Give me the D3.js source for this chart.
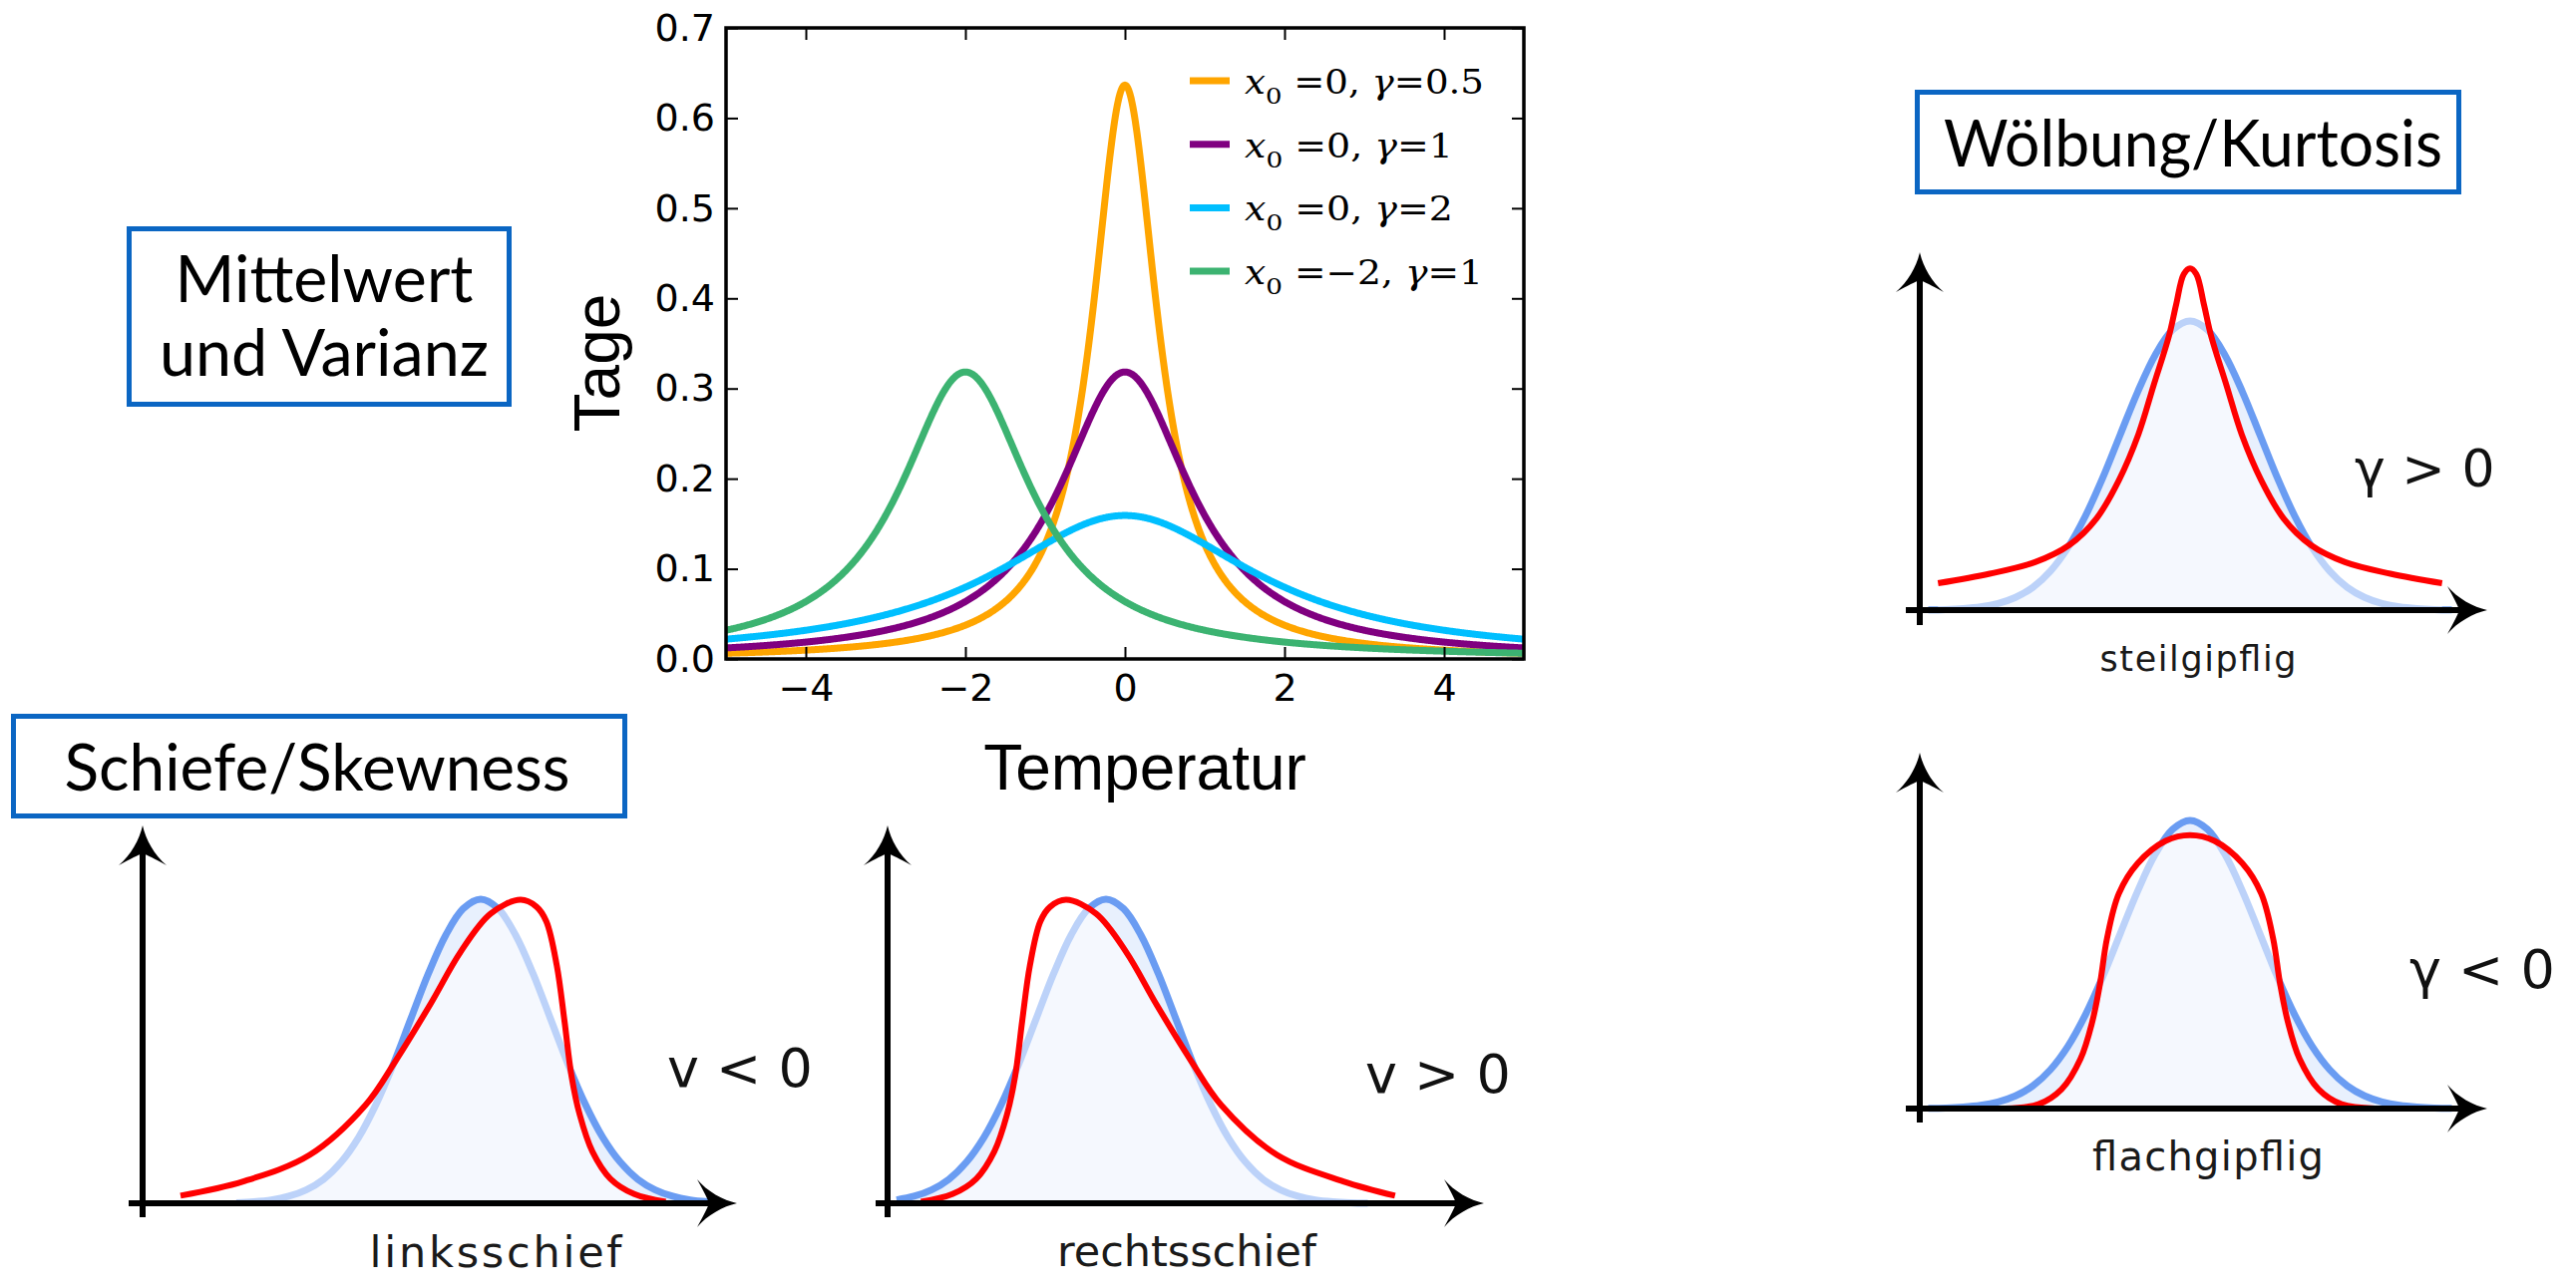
<!DOCTYPE html>
<html>
<head>
<meta charset="utf-8">
<script src="https://cdn.jsdelivr.net/npm/d3@7"></script>
<style>
  body { margin: 0; background: #ffffff; }
  svg { display: block; }
</style>
</head>
<body>
<svg id="fig" width="2583" height="1292"></svg>
<script>
// ---------- Main chart: Cauchy (Lorentz) densities ----------
const seriesX0 = [0, 0, 0, -2];
const seriesGamma = [0.5, 1, 2, 1];
const seriesColors = ["#ffa500", "#800080", "#00bfff", "#3cb371"];
const xTicks = [-4, -2, 0, 2, 4];
const yTicks = [0, 0.1, 0.2, 0.3, 0.4, 0.5, 0.6, 0.7];
const xDomain = [-5, 5];
const yDomain = [0, 0.7];

// ---------- Small panels: reference bell profile (t in std. deviations, height in % of peak) ----------
const bellT = [-4, -3.75, -3.5, -3.25, -3, -2.75, -2.5, -2.25, -2, -1.75, -1.5, -1.25, -1, -0.75, -0.5, -0.25,
               0, 0.25, 0.5, 0.75, 1, 1.25, 1.5, 1.75, 2, 2.25, 2.5, 2.75, 3, 3.25, 3.5, 3.75, 4];
const bellV = [0.03, 0.09, 0.2, 0.5, 1.1, 2.3, 4.4, 7.9, 13.5, 21.6, 32.5, 45.8, 60.7, 75.5, 88.2, 96.9,
               100, 96.9, 88.2, 75.5, 60.7, 45.8, 32.5, 21.6, 13.5, 7.9, 4.4, 2.3, 1.1, 0.5, 0.2, 0.09, 0.03];

// left-skewed profile (linksschief)
const leftSkewT = [-4.3, -3.4, -2.45, -1.65, -1.22, -0.72, -0.29, 0.14, 0.57, 0.8, 0.94, 1.09, 1.2, 1.3, 1.42, 1.6, 1.86, 2.2, 2.65];
const leftSkewV = [2.5, 7.2, 15.9, 32.3, 46.8, 65.5, 82.6, 95.2, 99.8, 97.5, 92.7, 78.2, 60, 42, 29, 17, 8, 3, 0.5];

// right-skewed profile (rechtsschief)
const rightSkewT = [-2.65, -2.2, -1.86, -1.6, -1.42, -1.3, -1.2, -1.09, -0.94, -0.8, -0.57, -0.14, 0.29, 0.72, 1.22, 1.65, 2.45, 3.4, 4.14];
const rightSkewV = [0.5, 3, 8, 17, 29, 42, 60, 78.2, 92.7, 97.5, 99.8, 95.2, 82.6, 65.5, 46.8, 32.3, 15.9, 7.2, 2.5];

// peaked profile (steilgipflig)
const peakedT = [-3.61, -2.87, -2.22, -1.73, -1.34, -1.02, -0.74, -0.52, -0.3, -0.2, -0.09, 0,
                 0.09, 0.2, 0.3, 0.52, 0.74, 1.02, 1.34, 1.73, 2.22, 2.87, 3.61];
const peakedV = [9.3, 12.6, 16.6, 22.5, 31.7, 44.9, 60.8, 77.9, 95, 105.6, 116.2, 118.2,
                 116.2, 105.6, 95, 77.9, 60.8, 44.9, 31.7, 22.5, 16.6, 12.6, 9.3];

// flat-topped profile (flachgipflig)
const flatT = [-2.65, -2.17, -1.84, -1.57, -1.4, -1.29, -1.19, -1.02, -0.75, -0.35, 0,
               0.35, 0.75, 1.02, 1.19, 1.29, 1.4, 1.57, 1.84, 2.17, 2.65];
const flatV = [0, 1.5, 6.7, 17.2, 30.2, 43.3, 59, 74.6, 85.1, 92.9, 94.9,
               92.9, 85.1, 74.6, 59, 43.3, 30.2, 17.2, 6.7, 1.5, 0];

const svg = d3.select("#fig");
const SANS = "'DejaVu Sans', sans-serif";
const ARIAL = "'Liberation Sans', Arial, sans-serif";
const TITLE = "Lato, 'Open Sans', sans-serif";
const SERIF = "'DejaVu Serif', 'Liberation Serif', serif";
const BOX_BLUE = "#0b66c3";

// ================= main chart =================
const plot = { left: 728, right: 1528, top: 28, bottom: 661 };
const x = d3.scaleLinear().domain(xDomain).range([plot.left, plot.right]);
const y = d3.scaleLinear().domain(yDomain).range([plot.bottom, plot.top]);

svg.append("defs").append("clipPath").attr("id", "plotClip")
  .append("rect")
  .attr("x", plot.left).attr("y", plot.top)
  .attr("width", plot.right - plot.left).attr("height", plot.bottom - plot.top);

const cauchy = (t, x0, g) => 1 / (Math.PI * g * (1 + ((t - x0) / g) ** 2));
const grid = d3.range(xDomain[0], xDomain[1] + 1e-9, 0.01);
const curveLine = d3.line().x(d => x(d[0])).y(d => y(d[1]));

const lines = svg.append("g").attr("clip-path", "url(#plotClip)");
seriesX0.forEach((x0, i) => {
  const g = seriesGamma[i];
  lines.append("path")
    .datum(grid.map(t => [t, cauchy(t, x0, g)]))
    .attr("d", curveLine)
    .attr("fill", "none")
    .attr("stroke", seriesColors[i])
    .attr("stroke-width", 7)
    .attr("stroke-linejoin", "round");
});

function styleAxis(g) {
  g.select(".domain").remove();
  g.selectAll(".tick line").attr("stroke", "#000").attr("stroke-width", 2);
  g.selectAll(".tick text").attr("fill", "#000").attr("font-family", SANS).attr("font-size", 38);
}
svg.append("g").attr("transform", `translate(0,${plot.bottom})`)
  .call(d3.axisBottom(x).tickValues(xTicks).tickSizeInner(-12).tickSizeOuter(0).tickPadding(15).tickFormat(d3.format("d")))
  .call(styleAxis);
svg.append("g").attr("transform", `translate(0,${plot.top})`)
  .call(d3.axisTop(x).tickValues(xTicks).tickSizeInner(-12).tickSizeOuter(0).tickFormat(""))
  .call(styleAxis);
svg.append("g").attr("transform", `translate(${plot.left},0)`)
  .call(d3.axisLeft(y).tickValues(yTicks).tickSizeInner(-12).tickSizeOuter(0).tickPadding(11).tickFormat(d3.format(".1f")))
  .call(styleAxis);
svg.append("g").attr("transform", `translate(${plot.right},0)`)
  .call(d3.axisRight(y).tickValues(yTicks).tickSizeInner(-12).tickSizeOuter(0).tickFormat(""))
  .call(styleAxis);

svg.append("rect")
  .attr("x", plot.left).attr("y", plot.top)
  .attr("width", plot.right - plot.left).attr("height", plot.bottom - plot.top)
  .attr("fill", "none").attr("stroke", "#000").attr("stroke-width", 3.5);

// axis titles
svg.append("text")
  .attr("x", 1148).attr("y", 792)
  .attr("text-anchor", "middle")
  .attr("font-family", ARIAL).attr("font-size", 64).attr("fill", "#000")
  .text("Temperatur");
svg.append("text")
  .attr("transform", "translate(621,364) rotate(-90)")
  .attr("text-anchor", "middle")
  .attr("font-family", ARIAL).attr("font-size", 64).attr("fill", "#000")
  .text("Tage");

// legend (no frame), entries drawn from the series parameters
const legend = svg.append("g");
const fmtNum = d3.format("");
const legendWidths = [240, 209, 209, 239];
seriesX0.forEach((x0, i) => {
  const ly = 81 + i * 63.7;
  legend.append("line")
    .attr("x1", 1193).attr("x2", 1233).attr("y1", ly).attr("y2", ly)
    .attr("stroke", seriesColors[i]).attr("stroke-width", 7);
  const t = legend.append("text")
    .attr("x", 1248).attr("y", ly + 13)
    .attr("font-family", SERIF).attr("font-size", 33).attr("fill", "#000")
    .attr("textLength", legendWidths[i]).attr("lengthAdjust", "spacingAndGlyphs");
  t.append("tspan").attr("font-style", "italic").text("x");
  t.append("tspan").attr("font-size", 23).attr("dy", 10).text("0");
  t.append("tspan").attr("dy", -10).text(" =" + fmtNum(x0).replace("-", "\u2212") + ", ");
  t.append("tspan").attr("font-style", "italic").text("\u03b3");
  t.append("tspan").text("=" + fmtNum(seriesGamma[i]));
});

// ================= framed headings =================
function framedTitle(box, lines, baselines, centerX, lengths) {
  svg.append("rect")
    .attr("x", box.x + 2.5).attr("y", box.y + 2.5)
    .attr("width", box.w - 5).attr("height", box.h - 5)
    .attr("fill", "#fff").attr("stroke", BOX_BLUE).attr("stroke-width", 5);
  lines.forEach((s, i) => {
    svg.append("text")
      .attr("x", centerX).attr("y", baselines[i])
      .attr("text-anchor", "middle")
      .attr("font-family", TITLE).attr("font-size", 65).attr("fill", "#000")
      .attr("textLength", lengths[i]).attr("lengthAdjust", "spacingAndGlyphs")
      .text(s);
  });
}
framedTitle({ x: 127, y: 227, w: 386, h: 181 }, ["Mittelwert", "und Varianz"], [303, 377], 325, [299, 330]);
framedTitle({ x: 11, y: 716, w: 618, h: 105 }, ["Schiefe/Skewness"], [793], 318, [507]);
framedTitle({ x: 1920, y: 90, w: 548, h: 105 }, ["Wölbung/Kurtosis"], [167], 2199, [500]);

// ================= small distribution panels =================
const panels = [
  { axisX: 143, baseY: 1207, cx: 482, sigma: 70, h: 305, yTip: 828, xLeft: 129, xTip: 739, stub: 1221,
    blueFrom: -3.5, blueTo: 3.5, redT: leftSkewT, redV: leftSkewV,
    label: "linksschief", labelX: 497, labelY: 1271, labelLen: 253, labelSize: 43,
    sign: "v < 0", signX: 669, signY: 1090, signSize: 54 },
  { axisX: 890, baseY: 1207, cx: 1109, sigma: 70, h: 305, yTip: 828, xLeft: 878, xTip: 1488, stub: 1221,
    blueFrom: -3.1, blueTo: 3.75, redT: rightSkewT, redV: rightSkewV,
    label: "rechtsschief", labelX: 1190, labelY: 1270, labelLen: 260, labelSize: 43,
    sign: "v > 0", signX: 1369, signY: 1096, signSize: 54 },
  { axisX: 1925, baseY: 612, cx: 2196, sigma: 70, h: 290, yTip: 253, xLeft: 1911, xTip: 2494, stub: 627,
    blueFrom: -3.8, blueTo: 3.8, redT: peakedT, redV: peakedV,
    label: "steilgipflig", labelX: 2204, labelY: 673, labelLen: 197, labelSize: 35,
    sign: "\u03b3 > 0", signX: 2361, signY: 488, signSize: 52 },
  { axisX: 1925, baseY: 1112, cx: 2196, sigma: 70, h: 289, yTip: 755, xLeft: 1911, xTip: 2494, stub: 1126,
    blueFrom: -3.8, blueTo: 3.8, redT: flatT, redV: flatV,
    label: "flachgipflig", labelX: 2214, labelY: 1174, labelLen: 232, labelSize: 40,
    sign: "\u03b3 < 0", signX: 2416, signY: 991, signSize: 54 }
];

// swept arrowhead, tip at the origin, pointing along +x
const ARROW = "M0,0 C-14,-3 -30,-12 -40,-24 Q-30,-6 -28,0 Q-30,6 -40,24 C-30,12 -14,3 0,0 Z";

panels.forEach(p => {
  const px = d3.scaleLinear().domain([0, 1]).range([p.cx, p.cx + p.sigma]);
  const py = d3.scaleLinear().domain([0, 100]).range([p.baseY, p.baseY - p.h]);
  const g = svg.append("g");

  const blue = bellT.map((t, i) => [t, bellV[i]]).filter(d => d[0] >= p.blueFrom && d[0] <= p.blueTo);
  const red = p.redT.map((t, i) => [t, p.redV[i]]);

  const area = d3.area().x(d => px(d[0])).y0(py(0)).y1(d => py(d[1])).curve(d3.curveCatmullRom.alpha(0.5));
  const line = d3.line().x(d => px(d[0])).y(d => py(d[1])).curve(d3.curveCatmullRom.alpha(0.5));

  // reference bell: pale fill and outline
  g.append("path").datum(blue).attr("d", area).attr("fill", "#e8f0fd");
  g.append("path").datum(blue).attr("d", line)
    .attr("fill", "none").attr("stroke", "#6a9cf2").attr("stroke-width", 7).attr("stroke-linejoin", "round");
  // translucent veil under the compared profile, then its outline
  g.append("path").datum(red).attr("d", area).attr("fill", "#ffffff").attr("fill-opacity", 0.55);
  g.append("path").datum(red).attr("d", line)
    .attr("fill", "none").attr("stroke", "#ff0000").attr("stroke-width", 6).attr("stroke-linejoin", "round");

  // axes with arrowheads
  g.append("line")
    .attr("x1", p.axisX).attr("x2", p.axisX).attr("y1", p.stub).attr("y2", p.yTip + 25)
    .attr("stroke", "#000").attr("stroke-width", 6);
  g.append("line")
    .attr("x1", p.xLeft).attr("x2", p.xTip - 25).attr("y1", p.baseY).attr("y2", p.baseY)
    .attr("stroke", "#000").attr("stroke-width", 6);
  g.append("path").attr("d", ARROW).attr("fill", "#000")
    .attr("transform", `translate(${p.xTip},${p.baseY})`);
  g.append("path").attr("d", ARROW).attr("fill", "#000")
    .attr("transform", `translate(${p.axisX},${p.yTip}) rotate(-90)`);

  // captions
  g.append("text")
    .attr("x", p.labelX).attr("y", p.labelY).attr("text-anchor", "middle")
    .attr("font-family", SANS).attr("font-size", p.labelSize).attr("fill", "#1a1a1a")
    .attr("textLength", p.labelLen).attr("lengthAdjust", "spacing")
    .text(p.label);
  g.append("text")
    .attr("x", p.signX).attr("y", p.signY)
    .attr("font-family", SANS).attr("font-size", p.signSize).attr("fill", "#111")
    .text(p.sign);
});
</script>
</body>
</html>
